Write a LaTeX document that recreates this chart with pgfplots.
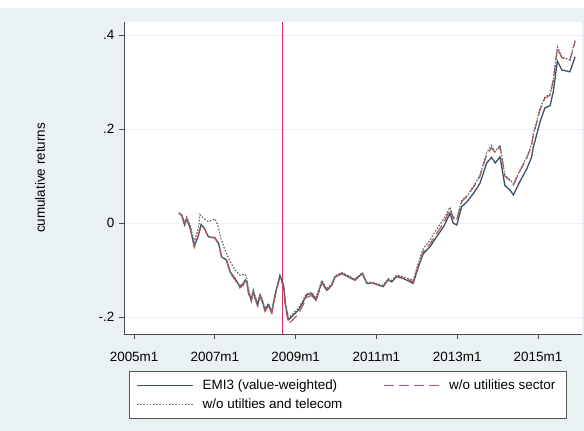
\documentclass[border=0pt]{standalone}
\usepackage{fontspec}
\setmainfont{Liberation Sans}
\usepackage{pgfplots}
\pgfplotsset{compat=1.18}
\definecolor{bgcol}{RGB}{234,241,243}
\definecolor{gridcol}{RGB}{236,242,244}
\definecolor{emiblue}{RGB}{55,82,105}
\definecolor{sectred}{RGB}{196,82,102}
\definecolor{telgrey}{RGB}{100,112,100}
\definecolor{crisis}{RGB}{226,46,100}
\definecolor{framecol}{RGB}{85,85,85}
\begin{document}
\fontsize{13.5}{16}\selectfont
\begin{tikzpicture}
\fill[bgcol] (0bp,0bp) rectangle (584bp,423bp);
\path[use as bounding box] (0bp,0bp) rectangle (584bp,431bp);
\begin{axis}[
    at={(124bp,97bp)}, anchor=south west,
    width=458bp, height=312bp, scale only axis,
    axis background/.style={fill=white},
    xmin=2004.75, xmax=2016.09,
    ymin=-0.236, ymax=0.428,
    axis x line*=bottom, axis y line*=left,
    axis line style={draw=black!70, line width=0.8pt},
    xtick={2005,2007,2009,2011,2013,2015},
    xticklabels={2005m1,2007m1,2009m1,2011m1,2013m1,2015m1},
    ytick={-0.2,0,0.2,0.4},
    yticklabels={-.2,0,.2,.4},
    tick align=outside, major tick length=5bp,
    tick style={draw=black!70, line width=0.8pt},
    ymajorgrids, grid style={draw=gridcol, line width=1pt},
    tick label style={font=\fontsize{13.5}{16}\selectfont},
    xticklabel style={yshift=-8bp},
    /pgf/number format/assume math mode=true,
    ylabel={cumulative returns},
    ylabel style={at={(axis description cs:-0.183,0.5)}, anchor=center,
        font=\fontsize{13.5}{16}\selectfont},
    legend columns=2,
    legend image code/.code={\draw[#1] (0bp,0bp) -- (56bp,0bp);},
    legend style={at={(axis description cs:0.0109,-0.119)}, anchor=north west,
        draw=framecol, line width=0.8pt, fill=white,
        inner xsep=7bp, inner ysep=5bp,
        font=\fontsize{13.5}{16}\selectfont,
        nodes={inner xsep=4.5bp, inner ysep=2.5bp, text height=10bp, text depth=3bp},
        cells={anchor=west},
        /tikz/row sep=1bp,
        /tikz/every odd column/.append style={column sep=4.5bp},
        /tikz/every even column/.append style={column sep=36bp}},
]
% crisis marker 2008m9
\addplot[draw=crisis, line width=1.3pt, forget plot] coordinates {(2008.667,-0.236) (2008.667,0.428)};

% EMI3 (value-weighted)
\addplot[draw=emiblue, line width=1.3pt] coordinates {
(2006.11,0.021)(2006.18,0.017)(2006.25,-0.004)(2006.30,0.010)(2006.39,-0.011)
(2006.49,-0.050)(2006.59,-0.026)(2006.66,-0.003)(2006.74,-0.011)(2006.84,-0.029)
(2007.00,-0.031)(2007.09,-0.043)(2007.17,-0.072)(2007.29,-0.079)(2007.38,-0.104)
(2007.50,-0.118)(2007.62,-0.135)(2007.71,-0.128)(2007.75,-0.121)(2007.79,-0.125)
(2007.83,-0.146)(2007.90,-0.164)(2007.95,-0.146)(2008.00,-0.160)(2008.06,-0.174)
(2008.12,-0.153)(2008.18,-0.167)(2008.24,-0.185)(2008.32,-0.174)(2008.41,-0.189)
(2008.49,-0.153)(2008.61,-0.112)(2008.70,-0.132)(2008.75,-0.174)(2008.82,-0.206)
(2008.94,-0.196)(2009.07,-0.185)(2009.19,-0.167)(2009.27,-0.153)(2009.40,-0.150)
(2009.50,-0.164)(2009.65,-0.125)(2009.77,-0.143)(2009.89,-0.132)(2009.98,-0.114)
(2010.14,-0.107)(2010.30,-0.114)(2010.47,-0.121)(2010.65,-0.107)(2010.76,-0.128)
(2010.92,-0.128)(2011.05,-0.132)(2011.17,-0.135)(2011.29,-0.121)(2011.38,-0.125)
(2011.50,-0.114)(2011.67,-0.118)(2011.91,-0.128)(2012.04,-0.093)(2012.16,-0.065)
(2012.33,-0.050)(2012.49,-0.029)(2012.66,-0.008)(2012.74,0.006)(2012.82,0.021)
(2012.90,0.000)(2012.99,-0.004)(2013.11,0.035)(2013.24,0.045)(2013.40,0.063)
(2013.56,0.084)(2013.73,0.128)(2013.85,0.140)(2013.94,0.128)(2014.06,0.141)
(2014.18,0.080)(2014.31,0.070)(2014.39,0.060)(2014.55,0.088)(2014.72,0.115)
(2014.84,0.140)(2014.88,0.160)(2015.05,0.215)(2015.17,0.245)(2015.30,0.250)
(2015.38,0.280)(2015.48,0.345)(2015.59,0.326)(2015.79,0.322)(2015.92,0.354)
};
\addlegendentry{EMI3 (value-weighted)}

% w/o utilities sector
\addplot[draw=sectred, line width=1.2pt, dash pattern=on 10bp off 5bp] coordinates {
(2006.11,0.021)(2006.18,0.016)(2006.25,-0.005)(2006.30,0.009)(2006.39,-0.012)
(2006.49,-0.051)(2006.59,-0.027)(2006.66,-0.004)(2006.74,-0.012)(2006.84,-0.030)
(2007.00,-0.032)(2007.09,-0.045)(2007.17,-0.074)(2007.29,-0.081)(2007.38,-0.106)
(2007.50,-0.121)(2007.62,-0.138)(2007.71,-0.131)(2007.75,-0.124)(2007.79,-0.128)
(2007.83,-0.149)(2007.90,-0.167)(2007.95,-0.149)(2008.00,-0.163)(2008.06,-0.177)
(2008.12,-0.156)(2008.18,-0.170)(2008.24,-0.188)(2008.32,-0.177)(2008.41,-0.192)
(2008.49,-0.156)(2008.61,-0.115)(2008.70,-0.136)(2008.75,-0.180)(2008.82,-0.214)
(2008.94,-0.205)(2009.07,-0.193)(2009.19,-0.173)(2009.27,-0.158)(2009.40,-0.154)
(2009.50,-0.167)(2009.65,-0.127)(2009.77,-0.145)(2009.89,-0.133)(2009.98,-0.115)
(2010.14,-0.108)(2010.30,-0.115)(2010.47,-0.122)(2010.65,-0.108)(2010.76,-0.128)
(2010.92,-0.128)(2011.05,-0.132)(2011.17,-0.134)(2011.29,-0.120)(2011.38,-0.124)
(2011.50,-0.113)(2011.67,-0.116)(2011.91,-0.125)(2012.04,-0.089)(2012.16,-0.060)
(2012.33,-0.044)(2012.49,-0.022)(2012.66,0.000)(2012.74,0.014)(2012.82,0.030)
(2012.90,0.010)(2012.99,0.006)(2013.11,0.046)(2013.24,0.057)(2013.40,0.076)
(2013.56,0.099)(2013.73,0.146)(2013.85,0.160)(2013.94,0.150)(2014.06,0.163)
(2014.18,0.100)(2014.31,0.090)(2014.39,0.081)(2014.55,0.110)(2014.72,0.138)
(2014.84,0.164)(2014.88,0.185)(2015.05,0.240)(2015.17,0.266)(2015.30,0.272)
(2015.38,0.304)(2015.48,0.372)(2015.59,0.352)(2015.79,0.346)(2015.92,0.386)
};
\addlegendentry{w/o utilities sector\hspace{4bp}}

% w/o utilities and telecom
\addplot[draw=telgrey, line width=1.2pt, dash pattern=on 1.6bp off 1.6bp] coordinates {
(2006.11,0.022)(2006.18,0.019)(2006.25,-0.001)(2006.30,0.013)(2006.39,-0.006)
(2006.49,-0.040)(2006.59,-0.012)(2006.63,0.018)(2006.74,0.009)(2006.84,0.003)
(2007.00,0.009)(2007.07,-0.004)(2007.15,-0.033)(2007.25,-0.057)(2007.38,-0.082)
(2007.50,-0.100)(2007.62,-0.111)(2007.75,-0.109)(2007.79,-0.118)
(2007.83,-0.140)(2007.90,-0.160)(2007.95,-0.142)(2008.00,-0.156)(2008.06,-0.170)
(2008.12,-0.150)(2008.18,-0.164)(2008.24,-0.182)(2008.32,-0.171)(2008.41,-0.186)
(2008.49,-0.151)(2008.61,-0.111)(2008.70,-0.131)(2008.75,-0.172)(2008.82,-0.203)
(2008.94,-0.192)(2009.07,-0.181)(2009.19,-0.163)(2009.27,-0.150)(2009.40,-0.147)
(2009.50,-0.160)(2009.65,-0.122)(2009.77,-0.140)(2009.89,-0.129)(2009.98,-0.112)
(2010.14,-0.105)(2010.30,-0.112)(2010.47,-0.119)(2010.65,-0.105)(2010.76,-0.126)
(2010.92,-0.126)(2011.05,-0.130)(2011.17,-0.132)(2011.29,-0.118)(2011.38,-0.122)
(2011.50,-0.111)(2011.67,-0.114)(2011.91,-0.122)(2012.04,-0.084)(2012.16,-0.054)
(2012.33,-0.036)(2012.49,-0.013)(2012.66,0.008)(2012.74,0.020)(2012.82,0.034)
(2012.90,0.014)(2012.99,0.009)(2013.11,0.048)(2013.24,0.058)(2013.40,0.078)
(2013.56,0.101)(2013.73,0.150)(2013.85,0.165)(2013.94,0.152)(2014.06,0.166)
(2014.18,0.102)(2014.31,0.092)(2014.39,0.083)(2014.55,0.112)(2014.72,0.140)
(2014.84,0.167)(2014.88,0.188)(2015.05,0.244)(2015.17,0.268)(2015.30,0.275)
(2015.38,0.307)(2015.48,0.375)(2015.59,0.353)(2015.79,0.348)(2015.92,0.389)
};
\addlegendentry{w/o utilties and telecom}
\end{axis}
\end{tikzpicture}
\end{document}
